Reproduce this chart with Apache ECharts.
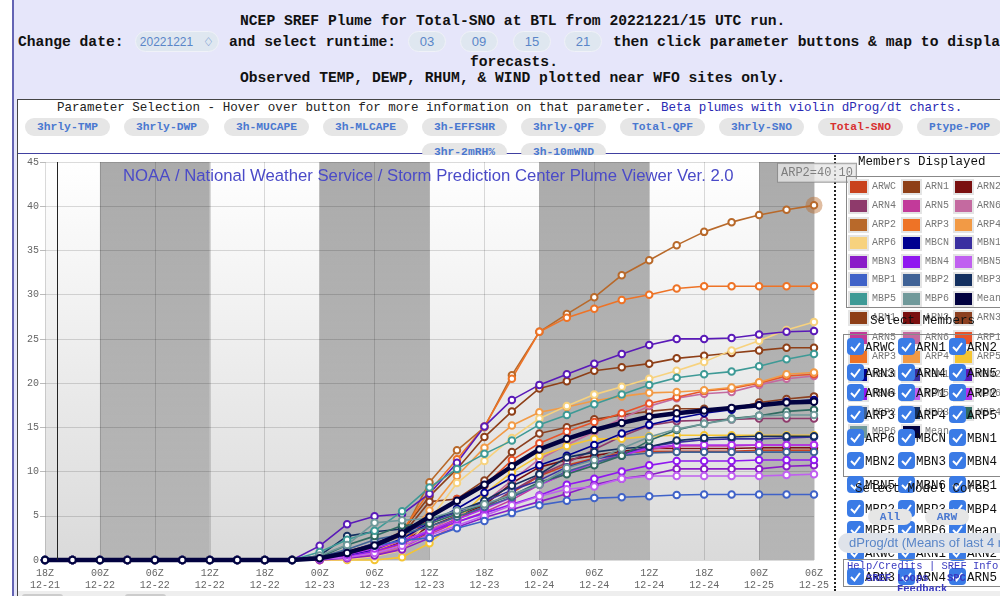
<!DOCTYPE html>
<html>
<head>
<meta charset="utf-8">
<title>NCEP SREF Plume</title>
<script src="https://cdn.jsdelivr.net/npm/echarts@6/dist/echarts.min.js"></script>
<style>
  html, body { margin: 0; padding: 0; width: 1000px; height: 596px; overflow: hidden; background: #fff; }
  .abs { position: absolute; white-space: pre; }
  .mono { font-family: "Liberation Mono", monospace; }
  #page { position: absolute; left: 12px; top: 0; width: 988px; height: 596px; background: #e6e6fa; border-left: 2px solid #6464b4; box-sizing: border-box; }
  #panel { position: absolute; left: 17px; top: 99px; width: 983px; height: 497px; background: #fff; border-top: 1px solid #444; border-left: 1px solid #444; box-sizing: border-box; z-index: 1; }
  .head { font: bold 14.66px "Liberation Mono", monospace; color: #111; z-index: 2; }
  .pill { background: #dfe7f0; color: #5a86c8; border: 1px solid #f0f2f8; border-radius: 11px; font: 13px "Liberation Sans", sans-serif; text-align: center; box-sizing: border-box; z-index: 2; }
  .btn { background: #e6e6e6; color: #4a78d0; border-radius: 9px; font: bold 11.3px "Liberation Mono", monospace; text-align: center; z-index: 2; height: 18px; line-height: 18px; }
  #rule { position: absolute; left: 18px; top: 153px; width: 982px; height: 1px; background: #4040a0; z-index: 1; }
  #cover { position: absolute; left: 18px; top: 155px; width: 982px; height: 436px; background: #fff; z-index: 3; }
  #dash { position: absolute; left: 834px; top: 155px; width: 0; height: 436px; border-left: 2px dotted #222; z-index: 4; }
  #chart { position: absolute; left: 18px; top: 155px; width: 982px; height: 436px; z-index: 5; }
  #side { position: absolute; left: 0; top: 0; width: 1000px; height: 596px; overflow: hidden; z-index: 6; }
  .box { position: absolute; border: 1px solid #888; box-sizing: border-box; }
  .swatch { position: absolute; width: 17px; height: 12px; outline: 2px solid #e4e4e4; }
  .lab { font: 10px "Liberation Mono", monospace; color: #777; }
  .sel { font: 12.5px "Liberation Mono", monospace; color: #111; }
  .chk { position: absolute; width: 17px; height: 17px; border-radius: 4px; background: #3a7be6; }
  .ttl { font: 12.5px "Liberation Mono", monospace; color: #111; }
  .link { font: 10.5px "Liberation Mono", monospace; color: #3a3ac0; }
  #strip { position: absolute; left: 18px; top: 591px; width: 982px; height: 5px; background: #eee; z-index: 7; }
  .stub { position: absolute; top: 594px; width: 41px; height: 6px; background: #ccc; border-radius: 4px; z-index: 8; }
</style>
</head>
<body>
<div id="page"></div>
<div id="panel"></div>
<div id="rule"></div>
<div id="cover"></div>
<div id="dash"></div>
<div id="chart"></div>
<div id="side"></div>
<div id="strip"></div>
<div class="stub" style="left:22px"></div>
<div class="stub" style="left:125px"></div>
<script>
// x axis: one label every 6 h, points every 3 h
const tickLabels = ['18Z\n12-21', '00Z\n12-22', '06Z\n12-22', '12Z\n12-22', '18Z\n12-22', '00Z\n12-23', '06Z\n12-23', '12Z\n12-23', '18Z\n12-23', '00Z\n12-24', '06Z\n12-24', '12Z\n12-24', '18Z\n12-24', '00Z\n12-25', '06Z\n12-25']
const darkBands = [[2, 6], [10, 14], [18, 22], [26, 28]]
const nowMark = 0.44

// member values, 18Z 12-21 to 06Z 12-25
const ARWC = [0,0,0,0,0,0,0,0,0,0, 0,0.2,0.6,1.5,3.2,4.7,6,7.6,9.5,10.7,11.5,12.1,12.3,12.3,12.3,12.3,12.4,12.4,12.4]
const ARN1 = [0,0,0,0,0,0,0,0,0,0, 0.3,0.9,1.8,3.2,7.2,10.3,13.9,16.8,19.4,20.2,21.4,21.8,22.2,22.8,23.1,23.4,23.7,24,24]
const ARN2 = [0,0,0,0,0,0,0,0,0,0, 0.1,0.4,1,2,3.8,5,6.2,8.7,10.5,11.3,11.8,12.3,12.6,12.6,12.6,12.6,12.7,12.7,12.7]
const ARN3 = [0,0,0,0,0,0,0,0,0,0, 0.2,0.7,1.5,2.8,6.6,6.9,9,12.2,14.3,15,15.9,16.4,16.8,17.1,17.1,17.1,17.8,18.2,18.5]
const ARN4 = [0,0,0,0,0,0,0,0,0,0, 0,0.3,0.9,1.9,3.1,4.6,5.9,7.8,9.6,11,12.5,14,15.2,15.7,15.8,15.9,16,16,16]
const ARN5 = [0,0,0,0,0,0,0,0,0,0, 0,0.1,0.6,1.4,2.9,4.3,5.4,6.8,8.5,9.8,11,12,12.5,12.9,12.9,12.9,13,13,13]
const ARN6 = [0,0,0,0,0,0,0,0,0,0, 0,0.2,0.7,1.4,3.4,5,6.5,9,11.4,13,14.5,16,17.4,18.3,18.8,19,19.8,20.5,20.8]
const ARP1 = [0,0,0,0,0,0,0,0,0,0, 0.1,0.4,0.9,1.8,4.8,6.9,8.4,11.3,13.2,14.5,15.6,16.6,17.7,18.4,19.1,19.4,20,20.8,21]
const ARP2 = [0,0,0,0,0,0,0,0,0,0, 0.3,1,1.8,2.8,8.8,12.4,15,20.9,25.8,27.8,29.7,32.2,33.9,35.6,37.1,38.2,39,39.6,40.1]
const ARP3 = [0,0,0,0,0,0,0,0,0,0, 0.2,0.6,1.4,3.2,7.8,11.4,15.1,20.5,25.8,27.4,28.4,29.4,30,30.7,30.95,30.95,30.95,30.95,30.95]
const ARP4 = [0,0,0,0,0,0,0,0,0,0, 0.1,0.4,1,2.3,5.6,9.5,12.7,15.2,16.7,17.3,18,18.5,18.9,19,19.2,19.5,20.1,21,21.2]
const ARP5 = [0,0,0,0,0,0,0,0,0,0, 0,0,0,0.3,1.9,4.5,7.5,9.9,11.8,12.9,13.7,13.7,14,14.1,14.1,14.1,14.1,14.1,14.1]
const ARP6 = [0,0,0,0,0,0,0,0,0,0, 0,0.1,0.4,1.1,4.5,8.7,11.2,13.8,16,17.4,18.7,19.6,20.5,21.4,22.4,23.7,24.8,26,26.9]
const MBCN = [0,0,0,0,0,0,0,0,0,0, 0.1,0.5,1.2,2.4,4.2,5.8,7.6,9.3,10.7,11.8,13,14.3,15.3,16,16.6,17,17.5,17.9,18.1]
const MBN1 = [0,0,0,0,0,0,0,0,0,0, 0.2,0.9,1.9,3,4.3,5.4,6.6,7.9,9,10.5,11.4,12,12.8,13.3,13.6,13.7,13.7,13.8,13.9]
const MBN2 = [0,0,0,0,0,0,0,0,0,0, 1.6,4.05,4.95,5.2,7.5,11,15.1,18.1,19.8,21,22.2,23.3,24.3,25,25,25.1,25.5,25.8,25.9]
const MBN3 = [0,0,0,0,0,0,0,0,0,0, 0,0.2,0.5,1.2,2.5,3.7,4.8,5.7,6.6,7.5,8.5,9.2,9.6,10.3,10.3,10.3,10.3,10.6,10.7]
const MBN4 = [0,0,0,0,0,0,0,0,0,0, 0.1,0.4,1,1.9,3.2,4.3,5.3,6.3,7.3,8.5,9.2,10,10.7,11.2,11.2,11.2,11.3,11.3,11.3]
const MBN5 = [0,0,0,0,0,0,0,0,0,0, 0.1,0.3,0.8,1.6,2.8,3.9,5,6.2,7.2,8,8.3,9.2,9.5,9.5,9.5,9.5,9.5,9.6,9.7]
const MBN6 = [0,0,0,0,0,0,0,0,0,0, 0.2,0.6,1.3,2.2,3.3,4.6,5.8,7.1,8.5,9.8,11,11.8,12.7,13,13,13,13,13,13]
const MBP1 = [0,0,0,0,0,0,0,0,0,0, 0.3,0.8,1.6,2.2,2.5,3.6,4.4,5.3,6.2,6.7,7,7.1,7.2,7.35,7.4,7.4,7.4,7.4,7.4]
const MBP2 = [0,0,0,0,0,0,0,0,0,0, 0.3,1.2,2.3,2.9,3.8,4.9,6,7.1,8.6,10,11,11.8,12.1,12.2,12.2,12.2,12.2,12.2,12.2]
const MBP3 = [0,0,0,0,0,0,0,0,0,0, 0.5,2.7,3.2,3.5,4.6,5.5,6.7,8.4,9.7,11.6,12.2,12.6,12.8,13.5,13.8,13.9,14,14,14]
const MBP4 = [0,0,0,0,0,0,0,0,0,0, 0.3,1.7,2.7,3.9,4.1,5.2,6.3,7.3,8.8,9.7,10.7,11.8,13.5,14.7,15.4,16,16.3,16.8,17]
const MBP5 = [0,0,0,0,0,0,0,0,0,0, 0.9,2.3,3.3,5.5,8.2,10.3,12,13.5,15.3,16.4,17.6,18.7,19.8,20.6,21,21.3,21.9,22.7,23.3]
const MBP6 = [0,0,0,0,0,0,0,0,0,0, 0.5,1.7,4.2,4.5,4.7,5.6,6.3,7.4,8.5,10.4,11.3,12.6,13.9,14.8,15.4,15.9,16.3,16.4,16.4]
const Mean = [0,0,0,0,0,0,0,0,0,0, 0.2,0.8,1.65,3,4.9,6.7,8.5,10.6,12.5,13.7,14.7,15.5,16.2,16.6,16.9,17.2,17.5,17.8,17.9]

const members = { ARWC, ARN1, ARN2, ARN3, ARN4, ARN5, ARN6, ARP1, ARP2, ARP3, ARP4, ARP5, ARP6, MBCN, MBN1, MBN2, MBN3, MBN4, MBN5, MBN6, MBP1, MBP2, MBP3, MBP4, MBP5, MBP6, Mean }
const colors = { ARWC: '#c9431e', ARN1: '#8e3f17', ARN2: '#7a1010', ARN3: '#8c4020', ARN4: '#8e3a6b', ARN5: '#c23a9a', ARN6: '#c46aa0', ARP1: '#e8542a', ARP2: '#b8692a', ARP3: '#ee7326', ARP4: '#f29a45', ARP5: '#f5c532', ARP6: '#f7d27e', MBCN: '#000090', MBN1: '#3a2fa0', MBN2: '#5a1ab8', MBN3: '#8a1cc8', MBN4: '#9018f0', MBN5: '#c060f0', MBN6: '#b030f0', MBP1: '#3f62c8', MBP2: '#3f6296', MBP3: '#143060', MBP4: '#2f6a60', MBP5: '#3e9a96', MBP6: '#70999a', Mean: '#020240' }

const paramButtons = [['3hrly-TMP', 25], ['3hrly-DWP', 124], ['3h-MUCAPE', 224], ['3h-MLCAPE', 323], ['3h-EFFSHR', 422], ['3hrly-QPF', 521], ['Total-QPF', 620], ['3hrly-SNO', 719], ['Total-SNO', 818], ['Ptype-POP', 917], ['3hr-2mRH%', 422], ['3h-10mWND', 521]]
const runtimes = [['03', 408], ['09', 460], ['15', 513], ['21', 564]]
const legendA = ['ARWC', 'ARN1', 'ARN2', 'ARN4', 'ARN5', 'ARN6', 'ARP2', 'ARP3', 'ARP4', 'ARP6', 'MBCN', 'MBN1', 'MBN3', 'MBN4', 'MBN5', 'MBP1', 'MBP2', 'MBP3', 'MBP5', 'MBP6', 'Mean']
const legendB = ['ARN1', 'ARN2', 'ARN3', 'ARN5', 'ARN6', 'ARP1', 'ARP3', 'ARP4', 'ARP5', 'MBCN', 'MBN1', 'MBN2', 'MBN4', 'MBN5', 'MBN6', 'MBP2', 'MBP3', 'MBP4', 'MBP6', 'Mean']
const checks = ['ARWC', 'ARN1', 'ARN2', 'ARN3', 'ARN4', 'ARN5', 'ARN6', 'ARP1', 'ARP2', 'ARP3', 'ARP4', 'ARP5', 'ARP6', 'MBCN', 'MBN1', 'MBN2', 'MBN3', 'MBN4', 'MBN5', 'MBN6', 'MBP1', 'MBP2', 'MBP3', 'MBP4', 'MBP5', 'MBP6', 'Mean', 'ARWC', 'ARN1', 'ARN2', 'ARN3', 'ARN4', 'ARN5']
const checkRows = [347, 373, 393, 415, 438, 461, 485, 509, 530, 553, 577]

// page furniture around the chart
function add(parent, cls, text, css) {
  const el = document.createElement('div')
  el.className = 'abs ' + cls
  el.textContent = text
  el.style.cssText = css
  parent.appendChild(el)
  return el
}

const body = document.body
add(body, 'head', 'NCEP SREF Plume for Total-SNO at BTL from 20221221/15 UTC run.', 'left:240px;top:13px')
add(body, 'head', 'Change date:', 'left:18px;top:34px')
add(body, 'pill', '20221221   \u2662', 'left:135px;top:31px;width:84px;height:21px;line-height:20px;font-size:12px')
add(body, 'head', 'and select runtime:', 'left:229px;top:34px')
runtimes.forEach(([t, x]) => add(body, 'pill', t, `left:${x}px;top:31px;width:38px;height:21px;line-height:20px`))
add(body, 'head', 'then click parameter buttons & map to display', 'left:613px;top:34px')
add(body, 'head', 'forecasts.', 'left:470px;top:54px')
add(body, 'head', 'Observed TEMP, DEWP, RHUM, & WIND plotted near WFO sites only.', 'left:240px;top:70px')
add(body, 'mono', 'Parameter Selection - Hover over button for more information on that parameter.', 'left:57px;top:101px;font-size:12.55px;color:#222;z-index:2')
add(body, 'mono', 'Beta plumes with violin dProg/dt charts.', 'left:661px;top:101px;font-size:12.55px;color:#2a2ab4;z-index:2')
paramButtons.forEach(([t, x], i) => {
  const el = add(body, 'btn', t, `left:${x}px;top:${i < 10 ? 118 : 143}px;width:85px`)
  if (t === 'Total-SNO') el.style.color = '#d83030'
})

// right-hand panel
const side = document.getElementById('side')
add(side, 'ttl', 'Members Displayed', 'left:858px;top:155px')
const boxA = document.createElement('div')
boxA.className = 'box'
boxA.style.cssText = 'left:846px;top:176px;width:200px;height:132px'
side.appendChild(boxA)
const colX = [850, 903, 955]
const rowA = [187, 206, 225, 243, 262, 280, 299]
const rowB = [318, 338, 357, 375, 394, 413, 432]
function drawLegend(names, rows) {
  names.forEach((name, i) => {
    const x = colX[i % 3]
    const y = rows[Math.floor(i / 3)]
    const sw = document.createElement('div')
    sw.className = 'swatch'
    sw.style.cssText = `left:${x}px;top:${y - 6}px;background:${colors[name]}`
    side.appendChild(sw)
    add(side, 'lab', name, `left:${x + 22}px;top:${y - 6}px`)
  })
}
drawLegend(legendB, rowB)
drawLegend(legendA, rowA)
add(side, 'ttl', 'Select Members', 'left:870px;top:314px')
const boxB = document.createElement('div')
boxB.className = 'box'
boxB.style.cssText = 'left:843px;top:334px;width:200px;height:143px'
side.appendChild(boxB)
checks.forEach((name, i) => {
  const x = [847, 898, 949][i % 3]
  const y = checkRows[Math.floor(i / 3)]
  const c = document.createElement('div')
  c.className = 'chk'
  c.style.cssText = `left:${x}px;top:${y - 9}px`
  c.innerHTML = '<svg width="17" height="17"><polyline points="4,9 7.5,12.5 13,5" fill="none" stroke="#fff" stroke-width="2"/></svg>'
  side.appendChild(c)
  add(side, 'sel', name, `left:${x + 18}px;top:${y - 6}px`)
})
add(side, 'ttl', 'Select Model Cores', 'left:855px;top:482px')
add(side, 'btn', 'All', 'left:868px;top:509px;width:44px;height:16px;line-height:16px')
add(side, 'btn', 'ARW', 'left:925px;top:509px;width:44px;height:16px;line-height:16px')
add(side, '', 'dProg/dt (Means of last 4 runs)', 'left:838px;top:533px;width:180px;height:20px;background:#dfe3ea;color:#5a86c8;border-radius:10px;font:13px/20px "Liberation Sans",sans-serif;padding-left:11px')
const boxC = document.createElement('div')
boxC.className = 'box'
boxC.style.cssText = 'left:843px;top:559px;width:200px;height:28px'
side.appendChild(boxC)
add(side, 'link', 'Help/Credits | SREF Info', 'left:847px;top:560px')
add(side, 'link', 'SREF', 'left:866px;top:572px;font-weight:bold')
add(side, 'link', 'Loops', 'left:897px;top:572px;font-weight:bold')
add(side, 'link', 'SPC', 'left:947px;top:572px;font-weight:bold')
add(side, 'link', 'Feedback', 'left:897px;top:583px;font-weight:bold')

// plume chart
const chart = echarts.init(document.getElementById('chart'), null, { renderer: 'canvas' })
const memberNames = Object.keys(members)

const lineSeries = memberNames.map((name) => {
  const isMean = name === 'Mean'
  return {
    name,
    type: 'line',
    z: isMean ? 4 : 3,
    clip: false,
    animation: false,
    symbol: 'circle',
    symbolSize: 6.5,
    lineStyle: { color: colors[name], width: isMean ? 4.5 : 1.6 },
    itemStyle: { color: '#fff', borderColor: colors[name], borderWidth: 2 },
    data: members[name].map((v, i) => [i, v]),
  }
})

const option = {
  animation: false,
  title: {
    text: 'NOAA / National Weather Service / Storm Prediction Center Plume Viewer Ver. 2.0',
    left: 100,
    top: 8,
    textStyle: { fontFamily: 'Liberation Sans', fontSize: 16.7, fontWeight: 'normal', color: '#4a4ac8' },
  },
  grid: {
    left: 27,
    right: 186,
    top: 7,
    bottom: 29,
    show: true,
    borderWidth: 0,
    backgroundColor: new echarts.graphic.LinearGradient(0, 0, 0, 1, [
      { offset: 0, color: '#ffffff' },
      { offset: 1, color: '#dadada' },
    ]),
  },
  xAxis: {
    type: 'value',
    min: 0,
    max: 28,
    interval: 2,
    axisLine: { show: false },
    axisTick: { show: false },
    splitLine: { show: true, lineStyle: { color: 'rgba(0,0,0,0.14)', width: 1 } },
    axisLabel: {
      formatter: (v) => tickLabels[v / 2],
      fontFamily: 'Liberation Mono',
      fontSize: 10,
      lineHeight: 12,
      color: '#666',
      margin: 7,
      showMinLabel: true,
      showMaxLabel: true,
    },
  },
  yAxis: {
    type: 'value',
    min: 0,
    max: 45,
    interval: 5,
    axisLine: { show: false },
    axisTick: { show: true, length: 5, lineStyle: { color: '#bbb' } },
    splitLine: { show: true, lineStyle: { color: 'rgba(0,0,0,0.14)', width: 1 } },
    axisLabel: { fontFamily: 'Liberation Mono', fontSize: 10, color: '#666', margin: 6 },
  },
  series: [
    {
      // shaded night bands and the current-time marker
      type: 'line',
      z: 1,
      silent: true,
      data: [],
      markArea: {
        silent: true,
        itemStyle: {
          color: new echarts.graphic.LinearGradient(0, 0, 0, 1, [
            { offset: 0, color: 'rgba(0,0,0,0.33)' },
            { offset: 1, color: 'rgba(0,0,0,0.17)' },
          ]),
        },
        data: darkBands.map(([a, b]) => [{ xAxis: a }, { xAxis: b }]),
      },
      markLine: {
        silent: true,
        symbol: 'none',
        label: { show: false },
        lineStyle: { color: '#222', width: 1, type: 'solid' },
        data: [{ xAxis: nowMark }],
      },
    },
    {
      // hover halo and readout on ARP2
      type: 'scatter',
      z: 2,
      clip: false,
      symbolSize: 17,
      itemStyle: { color: 'rgba(184,105,42,0.55)' },
      label: {
        show: true,
        position: 'top',
        distance: 15,
        offset: [3, 0],
        formatter: 'ARP2=' + ARP2[28].toFixed(2),
        fontFamily: 'Liberation Mono',
        fontSize: 12,
        color: '#666',
        backgroundColor: '#e6e6e6',
        borderColor: '#888',
        borderWidth: 1,
        padding: [3, 3, 3, 3],
      },
      data: [[28, ARP2[28]]],
    },
    ...lineSeries,
  ],
}
chart.setOption(option)
</script>
</body>
</html>
